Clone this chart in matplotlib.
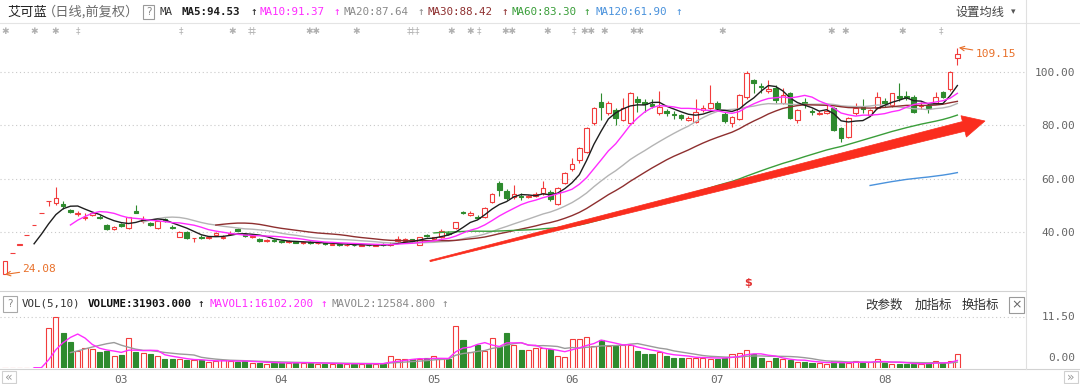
import matplotlib
matplotlib.use('Agg')
import matplotlib.pyplot as plt
import numpy as np
import pandas as pd
from matplotlib.patches import Rectangle, Polygon

# ---------------- data (daily candles, index 0 = listing day) ----------------
opens = [24.08, 32.05, 35.26, 38.79, 42.67, 46.94, 51.63, 50.8, 50.5, 48.2,
         46.6, 45.2, 46.5, 45.8, 42.5, 41.0, 42.9, 41.4, 48.0, 44.2,
         43.3, 41.5, 44.7, 42.0, 38.3, 40.0, 37.6, 38.3, 37.8, 38.9,
         37.8, 39.2, 41.0, 39.2, 38.0, 37.2, 36.6, 36.9, 36.5, 36.2,
         36.5, 35.9, 36.2, 35.7, 35.9, 35.3, 35.6, 35.1, 35.3, 34.9,
         35.2, 34.9, 35.4, 35.0, 36.5, 36.6, 37.2, 35.2, 38.8, 37.3,
         38.0, 39.8, 41.4, 47.6, 46.4, 45.7, 45.5, 51.2, 58.3, 55.5,
         53.0, 53.6, 53.2, 53.6, 54.5, 55.0, 50.4, 58.3, 63.5, 67.0,
         70.0, 80.8, 88.7, 84.6, 85.7, 82.0, 80.8, 89.8, 88.6, 87.9,
         84.6, 85.2, 84.2, 83.8, 82.0, 81.3, 85.9, 86.5, 88.3, 84.2,
         80.8, 82.3, 90.6, 97.0, 94.8, 92.8, 94.0, 88.3, 92.0, 82.0,
         88.9, 85.3, 84.4, 84.8, 86.5, 79.0, 75.6, 84.6, 86.8, 83.8,
         86.5, 89.1, 87.6, 90.9, 91.0, 90.6, 87.2, 87.2, 88.3, 92.5,
         93.6, 105.3]
highs = [29.14, 32.05, 35.26, 38.79, 42.67, 46.94, 51.63, 56.79, 51.5, 48.8,
         47.8, 47.0, 47.6, 46.4, 43.0, 42.2, 43.3, 45.8, 50.0, 46.0,
         43.8, 44.3, 45.2, 42.5, 40.3, 40.2, 37.7, 38.8, 38.6, 40.0,
         38.7, 40.2, 41.4, 39.6, 38.9, 37.8, 37.4, 37.2, 36.9, 37.0,
         36.8, 36.8, 36.5, 36.3, 36.1, 36.0, 35.9, 35.7, 35.6, 35.5,
         35.5, 35.6, 35.7, 36.2, 38.5, 37.9, 37.5, 38.2, 39.3, 38.3,
         41.2, 40.3, 43.6, 48.0, 48.0, 46.4, 49.3, 54.5, 59.2, 56.0,
         57.5, 54.5, 53.8, 55.0, 59.0, 55.8, 57.0, 62.5, 67.7, 72.0,
         79.5, 87.0, 92.1, 89.0, 86.5, 90.2, 92.5, 91.0, 90.0, 89.8,
         92.9, 86.0, 85.2, 84.2, 83.5, 89.8, 87.6, 95.0, 89.0, 85.0,
         83.5, 91.6, 100.5, 97.2, 96.0, 97.0, 95.3, 94.0, 92.5, 86.0,
         90.4, 86.3, 85.5, 87.6, 87.0, 79.5, 83.0, 88.3, 89.8, 86.0,
         92.5, 90.4, 92.3, 95.8, 93.0, 91.3, 88.7, 88.0, 92.5, 92.7,
         100.2, 109.15]
lows = [24.08, 32.05, 35.26, 38.79, 42.67, 46.94, 49.8, 50.0, 48.6, 47.0,
        46.0, 44.5, 46.0, 44.8, 40.6, 40.8, 41.8, 41.2, 47.0, 43.5,
        42.3, 41.3, 43.8, 41.0, 38.0, 37.4, 36.4, 37.5, 37.4, 38.6,
        37.5, 38.9, 40.2, 38.2, 37.6, 36.3, 36.2, 36.1, 35.8, 35.9,
        35.7, 35.6, 35.5, 35.4, 35.1, 35.0, 34.9, 34.8, 34.7, 34.6,
        34.6, 34.7, 34.8, 34.8, 36.0, 36.3, 36.2, 35.0, 38.0, 37.0,
        37.8, 39.0, 41.2, 46.9, 46.1, 44.8, 45.3, 51.0, 53.5, 52.0,
        52.5, 52.0, 52.8, 53.2, 54.0, 51.5, 50.0, 58.0, 63.0, 65.8,
        69.5, 80.0, 82.0, 84.0, 80.0, 81.5, 80.5, 85.0, 85.0, 86.5,
        84.0, 83.5, 82.5, 82.0, 81.5, 80.8, 85.0, 86.0, 85.8, 81.0,
        79.3, 82.0, 90.0, 92.1, 92.0, 92.3, 88.5, 88.0, 82.3, 80.8,
        86.5, 84.0, 84.0, 84.2, 78.0, 73.7, 75.3, 84.0, 84.6, 83.5,
        86.0, 86.9, 87.0, 89.0, 89.5, 84.6, 86.0, 84.6, 88.0, 90.2,
        93.0, 102.6]
closes = [29.14, 32.05, 35.26, 38.79, 42.67, 46.94, 51.63, 52.6, 49.8, 47.4,
          47.3, 45.8, 47.2, 45.2, 41.0, 42.0, 42.2, 45.5, 47.3, 45.0,
          42.7, 44.0, 44.0, 41.5, 40.0, 37.8, 37.7, 37.9, 38.2, 39.6,
          38.3, 39.8, 40.5, 38.6, 38.5, 36.8, 36.9, 36.5, 36.2, 36.6,
          36.0, 36.3, 35.8, 35.9, 35.4, 35.6, 35.2, 35.3, 35.0, 35.2,
          35.0, 35.3, 35.1, 35.5, 37.3, 37.5, 36.5, 38.0, 38.5, 38.0,
          40.5, 39.3, 43.6, 47.2, 47.3, 45.3, 49.0, 54.2, 55.8, 52.8,
          54.2, 53.2, 53.5, 54.3, 56.4, 52.2, 56.4, 62.0, 65.4, 71.4,
          79.0, 86.5, 86.8, 88.3, 82.7, 86.5, 92.0, 88.9, 88.1, 87.4,
          86.8, 84.6, 83.8, 82.8, 82.8, 85.0, 86.6, 88.3, 86.5, 81.6,
          83.0, 91.3, 99.6, 96.0, 94.2, 93.5, 89.5, 91.3, 82.7, 85.7,
          88.5, 84.9, 84.8, 85.4, 78.2, 75.2, 82.7, 86.5, 86.3, 85.7,
          90.6, 88.5, 92.0, 90.4, 90.2, 85.0, 87.8, 86.6, 90.6, 90.6,
          100.0, 106.8]
# volume in 10k lots (万手)
volumes = [0.10, 0.05, 0.05, 0.05, 0.05, 0.06, 9.0, 11.5, 8.0, 5.9,
           3.9, 4.5, 4.3, 3.7, 3.9, 2.7, 3.0, 6.8, 3.7, 3.4,
           3.1, 2.7, 1.95, 2.1, 2.1, 1.7, 1.7, 1.7, 1.4, 1.6,
           1.7, 1.6, 1.4, 1.6, 1.2, 1.2, 1.0, 1.2, 1.2, 1.2,
           1.2, 1.2, 1.2, 1.0, 1.0, 1.0, 0.9, 0.9, 1.0, 1.0,
           0.9, 1.0, 1.0, 2.6, 1.95, 1.95, 2.1, 1.95, 2.2, 2.7,
           1.95, 1.95, 9.5, 6.4, 3.7, 5.1, 3.9, 6.8, 4.7, 7.8,
           5.1, 4.1, 4.1, 4.5, 4.4, 4.3, 2.7, 2.5, 6.6, 6.6,
           7.0, 4.85, 6.4, 4.85, 4.85, 5.1, 5.1, 3.75, 3.1, 3.1,
           3.7, 2.7, 2.35, 2.35, 2.35, 2.35, 2.35, 2.1, 2.1, 2.35,
           3.1, 3.3, 4.1, 3.1, 2.35, 1.56, 2.35, 1.95, 1.7, 1.4,
           1.4, 1.17, 1.17, 0.94, 1.56, 1.17, 1.17, 1.56, 1.17, 1.4,
           1.95, 1.17, 1.0, 1.0, 0.9, 1.0, 0.9, 1.2, 1.5, 1.1,
           1.5, 3.19]
month_ticks = [16, 38, 59, 78, 98, 121]
month_labels = ['03', '04', '05', '06', '07', '08']
ma_periods = [5, 10, 20, 30, 60, 120]
ma_colors = ['#1e1e1e', '#ff2cff', '#b4b4b4', '#8e2f2f', '#3a9e3a', '#4a92dc']
ma_header = ['MA5:94.53', 'MA10:91.37', 'MA20:87.64', 'MA30:88.42', 'MA60:83.30', 'MA120:61.90']
price_ticks = [40, 60, 80, 100]
event_x = [5, 34, 55, 78, 181, 232, 252, 313, 356, 413, 451, 470, 479, 509,
           547, 574, 588, 604, 637, 722, 831, 845, 902, 941]
event_sym = ['✱', '✱', '✱', '‡', '‡', '✱', '‡‡', '✱✱', '✱', '‡‡‡', '✱', '✱', '‡', '✱✱',
             '✱', '‡', '✱✱', '✱', '✱✱', '✱', '✱', '✱', '✱', '‡']

# ---------------- figure ----------------
W, H = 1080, 384
fig = plt.figure(figsize=(W / 100, H / 100), dpi=100)
fig.patch.set_facecolor('white')

PX0, STEP = 5.0, 7.27
XR = 1025
xlim = ((0 - PX0) / STEP, (XR - PX0) / STEP)

def fy(py):
    return 1 - py / H

main = fig.add_axes([0, fy(288), XR / W, (288 - 40) / H])
vol = fig.add_axes([0, fy(368), XR / W, (368 - 292) / H])
for a in (main, vol):
    a.set_xlim(*xlim)
    for s in a.spines.values():
        s.set_visible(False)
    a.set_facecolor('none')
main.set_ylim(19.0, 112.0)
vol.set_ylim(0, 11.5 * (368 - 292) / (368 - 317))

o = np.array(opens); h = np.array(highs); l = np.array(lows); c = np.array(closes)
v = np.array(volumes)
idx = np.arange(len(c))
up = c >= o
RED = '#f23c3c'
GRN = '#2e8b2e'
cols = [RED if u else GRN for u in up]
faces = ['white' if u else GRN for u in up]

# grid
for p in price_ticks:
    main.axhline(p, color='#c9c9c9', lw=0.8, ls=(0, (1, 2.5)), zorder=0)
vol.axhline(11.5, color='#c9c9c9', lw=0.8, ls=(0, (1, 2.5)), zorder=0)

# candles
main.vlines(idx, l, h, colors=cols, lw=0.8, zorder=2)
body_lo = np.minimum(o, c)
body_h = np.maximum(np.abs(c - o), 0.12)
main.bar(idx, body_h, bottom=body_lo, width=0.64, color=faces, edgecolor=cols,
         linewidth=0.8, zorder=3)

# moving averages
cs = pd.Series(c)
for n, col in zip(ma_periods, ma_colors):
    main.plot(idx, cs.rolling(n).mean(), color=col, lw=1.0, zorder=4 if n > 10 else 5)

# volume
vol.bar(idx, np.maximum(v, 0.08), width=0.7, color=faces, edgecolor=cols, linewidth=0.8, zorder=3)
vs = pd.Series(v)
vol.plot(idx, vs.rolling(10).mean(), color='#9a9a9a', lw=1.0, zorder=4)
vol.plot(idx, vs.rolling(5).mean(), color='#ff2cff', lw=1.0, zorder=5)

# axes ticks
mono = 'DejaVu Sans Mono'
cjk = ['Noto Sans CJK SC', 'DejaVu Sans']
main.set_xticks([])
main.yaxis.tick_right()
main.set_yticks(price_ticks)
main.set_yticklabels(['%.2f' % p for p in price_ticks], fontfamily=mono)
main.tick_params(axis='y', length=0, pad=36, labelsize=8, labelcolor='#666666')
for lb in main.get_yticklabels():
    lb.set_horizontalalignment('right')
vol.set_yticks([])
vol.set_xticks(month_ticks)
vol.set_xticklabels(month_labels, fontfamily=mono)
vol.tick_params(axis='x', length=0, pad=5, labelsize=8, labelcolor='#666666')

# annotations on the price axes
main.annotate('109.15', xy=(idx[-1] + 0.2, max(highs)), xytext=(12, -4.5), textcoords='offset points',
              color='#e8702a', fontsize=8, fontfamily=mono, va='center', ha='left',
              arrowprops=dict(arrowstyle='->', color='#e8702a', lw=0.8, shrinkA=0, shrinkB=0))
main.annotate('%.2f' % min(lows), xy=(0, min(lows)), xytext=(12.5, 3.6), textcoords='offset points',
              color='#e8702a', fontsize=8, fontfamily=mono, va='center', ha='left',
              arrowprops=dict(arrowstyle='->', color='#e8702a', lw=0.8, shrinkA=0, shrinkB=0))

# ---------------- overlay (pixel coordinates) ----------------
ov = fig.add_axes([0, 0, 1, 1], zorder=10)
ov.set_xlim(0, W); ov.set_ylim(H, 0)
ov.axis('off'); ov.patch.set_visible(False)

# frame lines
ov.plot([0, W], [22.5, 22.5], color='#e4e4e4', lw=0.8)
ov.plot([0, XR], [290.5, 290.5], color='#d2d2d2', lw=0.8)
ov.plot([0, W], [368.5, 368.5], color='#d2d2d2', lw=0.8)
ov.plot([XR + 0.5, XR + 0.5], [0, 368.5], color='#e0e0e0', lw=0.8)

# header
ov.text(7, 12, '艾可蓝', fontfamily=cjk, fontsize=9.5, color='#222222', va='center')
ov.text(43, 12, '（日线,前复权）', fontfamily=cjk, fontsize=9.5, color='#6a6a6a', va='center')
ov.add_patch(Rectangle((143, 5), 11, 14, fill=False, ec='#9a9a9a', lw=0.8))
ov.text(148.5, 12, '?', fontsize=7.5, color='#888888', ha='center', va='center')
ov.text(160, 12, 'MA', fontfamily=mono, fontsize=7.8, color='#333333', va='center')
hx = [182, 260, 344, 428, 511, 595]
ax_ = [250, 333, 417, 501, 583, 675]
for t, x, xa, col in zip(ma_header, hx, ax_, ma_colors):
    colt = '#8a8a8a' if col == '#b4b4b4' else col
    ov.text(x, 12, t, fontfamily=mono, fontsize=7.8, color=colt, va='center',
            fontweight='bold' if t.startswith('MA5:') else 'normal')
    ov.text(xa, 12, '↑', fontfamily=mono, fontsize=8, color=colt, va='center')
ov.text(955, 12, '设置均线', fontfamily=cjk, fontsize=8.8, color='#444444', va='center')
ov.text(1011, 12, '▾', fontsize=6.5, color='#555555', va='center')

# event markers row
for x, s in zip(event_x, event_sym):
    ov.text(x, 31, s, fontsize=6.5, color='#b0b0b0', ha='center', va='center', fontfamily='DejaVu Sans')

# red trend arrow
S = np.array([430.0, 261.0]); T = np.array([985.0, 121.0])
d = (T - S) / np.linalg.norm(T - S)
n = np.array([-d[1], d[0]])
B = T - 22 * d
arrow_pts = [S + 0.7 * n, B + 5 * n, B + 11 * n, T, B - 11 * n, B - 5 * n, S - 0.7 * n]
ov.add_patch(Polygon(arrow_pts, closed=True, fc='#fa2d1e', ec='#fa2d1e', lw=0.5))

# signal marker
ov.text(748, 283, '$', fontsize=8, color='#e23030', fontweight='bold', ha='center', va='center')

# volume header
ov.add_patch(Rectangle((3, 296), 14, 16, fill=False, ec='#a8a8a8', lw=0.8))
ov.text(10, 304, '?', fontsize=7.5, color='#888888', ha='center', va='center')
ov.text(22, 304, 'VOL(5,10)', fontfamily=mono, fontsize=7.8, color='#333333', va='center')
ov.text(88, 304, 'VOLUME:31903.000', fontfamily=mono, fontsize=7.8, color='#111111', va='center', fontweight='bold')
ov.text(197, 304, '↑', fontfamily=mono, fontsize=8, color='#111111', va='center')
ov.text(210, 304, 'MAVOL1:16102.200', fontfamily=mono, fontsize=7.8, color='#ff2cff', va='center')
ov.text(320, 304, '↑', fontfamily=mono, fontsize=8, color='#ff2cff', va='center')
ov.text(331, 304, 'MAVOL2:12584.800', fontfamily=mono, fontsize=7.8, color='#8a8a8a', va='center')
ov.text(441, 304, '↑', fontfamily=mono, fontsize=8, color='#8a8a8a', va='center')
for t, x in zip(['改参数', '加指标', '换指标'], [865, 915, 962]):
    ov.text(x, 305, t, fontfamily=cjk, fontsize=9, color='#333333', va='center')
ov.add_patch(Rectangle((1009, 297), 15, 16, fill=False, ec='#9a9a9a', lw=0.8))
ov.text(1016.5, 305, '×', fontsize=9, color='#666666', ha='center', va='center')

# volume scale labels
ov.text(1075, 317, '11.50', fontfamily=mono, fontsize=8, color='#666666', ha='right', va='center')
ov.text(1075, 358, '0.00', fontfamily=mono, fontsize=8, color='#666666', ha='right', va='center')

# scroll buttons
ov.add_patch(Rectangle((2, 371), 14, 12, fill=False, ec='#d0d0d0', lw=0.8))
ov.text(9, 377, '«', fontsize=9, color='#999999', ha='center', va='center')
ov.add_patch(Rectangle((1064, 371), 14, 12, fill=False, ec='#d0d0d0', lw=0.8))
ov.text(1071, 377, '»', fontsize=9, color='#999999', ha='center', va='center')

fig.savefig('out.png', dpi=100, facecolor='white')
